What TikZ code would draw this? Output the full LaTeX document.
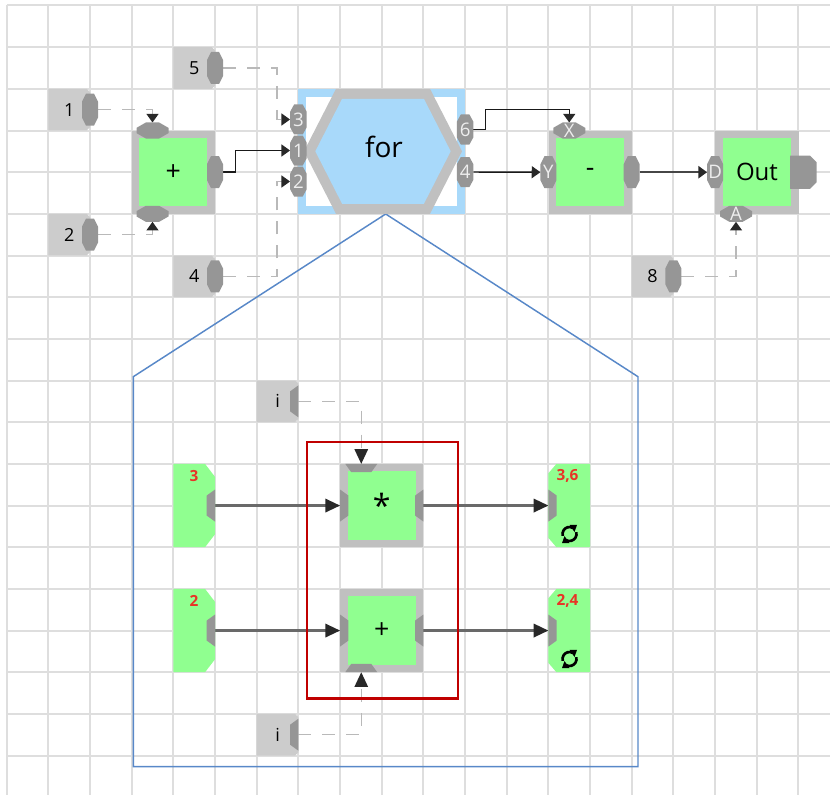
\documentclass[tikz,border=0pt]{standalone}
\usepackage{fontspec}
\setmainfont{Open Sans}
\usetikzlibrary{arrows.meta,calc}

\definecolor{gridc}{RGB}{222,222,222}
\definecolor{constc}{RGB}{204,204,204}
\definecolor{portc}{RGB}{150,150,150}
\definecolor{portlbl}{RGB}{238,238,238}
\definecolor{framec}{RGB}{192,192,192}
\definecolor{greenc}{RGB}{144,255,144}
\definecolor{forblue}{RGB}{168,217,250}
\definecolor{wirec}{RGB}{25,25,25}
\definecolor{wiretwo}{RGB}{70,70,70}
\definecolor{housewire}{RGB}{105,105,105}
\definecolor{dashc}{RGB}{185,185,185}
\definecolor{tipc}{RGB}{40,40,40}
\definecolor{housec}{RGB}{88,136,200}
\definecolor{framered}{RGB}{192,0,0}
\definecolor{lblred}{RGB}{232,52,38}

\pgfdeclarelayer{gridlayer}
\pgfdeclarelayer{wires}
\pgfsetlayers{gridlayer,wires,main}

\tikzset{
  every node/.style={inner sep=0pt, outer sep=0pt},
  gridline/.style={draw=gridc, line width=1.5pt},
  % octagonal port (chamfer on all four corners)
  oct/.style n args={3}{path picture={\fill[#1]
      ([yshift=-#3]path picture bounding box.north west) --
      ([xshift=#2]path picture bounding box.north west) --
      ([xshift=-#2]path picture bounding box.north east) --
      ([yshift=-#3]path picture bounding box.north east) --
      ([yshift=#3]path picture bounding box.south east) --
      ([xshift=-#2]path picture bounding box.south east) --
      ([xshift=#2]path picture bounding box.south west) --
      ([yshift=#3]path picture bounding box.south west) -- cycle;}},
  % chamfer on the right corners only
  rch/.style n args={3}{path picture={\fill[#1]
      (path picture bounding box.north west) --
      ([xshift=-#2]path picture bounding box.north east) --
      ([yshift=-#3]path picture bounding box.north east) --
      ([yshift=#3]path picture bounding box.south east) --
      ([xshift=-#2]path picture bounding box.south east) --
      (path picture bounding box.south west) -- cycle;}},
  % chamfer on the left corners only
  lch/.style n args={3}{path picture={\fill[#1]
      ([xshift=#2]path picture bounding box.north west) --
      (path picture bounding box.north east) --
      (path picture bounding box.south east) --
      ([xshift=#2]path picture bounding box.south west) --
      ([yshift=#3]path picture bounding box.south west) --
      ([yshift=-#3]path picture bounding box.north west) -- cycle;}},
  constbox/.style={rectangle, minimum width=31.25pt, minimum height=31.25pt,
      rch={constc}{2.5pt}{2.5pt}, font=\fontsize{13.5}{13.5}\selectfont},
  gin/.style={rectangle, minimum width=31.25pt, minimum height=62.5pt,
      rch={greenc}{7.5pt}{9.75pt}},
  gout/.style={rectangle, minimum width=31.25pt, minimum height=62.5pt,
      lch={greenc}{6pt}{7pt}},
  plbl/.style={font=\fontsize{14}{14}\selectfont, text=portlbl},
  vport/.style={rectangle, minimum width=12pt, minimum height=24pt,
      oct={portc}{3pt}{6pt}, plbl},
  vports/.style={rectangle, minimum width=12.5pt, minimum height=22.5pt,
      oct={portc}{3pt}{5.5pt}, plbl},
  hport/.style={rectangle, minimum width=24pt, minimum height=12pt,
      oct={portc}{7pt}{4pt}, plbl},
  outport/.style={rectangle, minimum width=20pt, minimum height=25pt,
      rch={portc}{5pt}{5pt}},
  % half ports, the long side lies on the frame edge
  hpE/.style={rectangle, minimum width=6.25pt, minimum height=24pt,
      path picture={\fill[portc] (path picture bounding box.north east) --
      (path picture bounding box.south east) --
      ([yshift=4.5pt]path picture bounding box.south west) --
      ([yshift=-4.5pt]path picture bounding box.north west) -- cycle;}},
  hpW/.style={rectangle, minimum width=6.25pt, minimum height=24pt,
      path picture={\fill[portc] (path picture bounding box.north west) --
      (path picture bounding box.south west) --
      ([yshift=4.5pt]path picture bounding box.south east) --
      ([yshift=-4.5pt]path picture bounding box.north east) -- cycle;}},
  hpN/.style={rectangle, minimum width=24pt, minimum height=6.25pt,
      path picture={\fill[portc] (path picture bounding box.north west) --
      (path picture bounding box.north east) --
      ([xshift=-4.5pt]path picture bounding box.south east) --
      ([xshift=4.5pt]path picture bounding box.south west) -- cycle;}},
  hpS/.style={rectangle, minimum width=24pt, minimum height=6.25pt,
      path picture={\fill[portc] (path picture bounding box.south west) --
      (path picture bounding box.south east) --
      ([xshift=-4.5pt]path picture bounding box.north east) --
      ([xshift=4.5pt]path picture bounding box.north west) -- cycle;}},
  gnode/.style={rectangle, fill=greenc, draw=framec, line width=5.7pt,
      minimum width=56.8pt, minimum height=56.8pt, font=\fontsize{20}{20}\selectfont},
  fornode/.style={rectangle, fill=white, draw=forblue, line width=6pt,
      minimum width=119pt, minimum height=87.75pt},
  redlbl/.style={text=lblred, font=\fontsize{11.5}{11.5}\selectfont\bfseries},
  wire/.style={draw=wirec, line width=1.1pt},
  wirebold/.style={draw=wiretwo, line width=1.7pt},
  hwire/.style={draw=housewire, line width=1.6pt},
  dwire/.style={draw=dashc, line width=1.1pt, dash pattern=on 9.75pt off 8.25pt},
  tipA/.style={-{Triangle[length=6.5pt,width=9pt,color=tipc]}},
  tipB/.style={-{Triangle[length=11pt,width=10pt,color=tipc]}},
  % circular "repeat" badge: two arcs, each ending in a small arrowhead
  refresh/.pic={
    \draw[line width=2pt] (165:7) arc[start angle=165, end angle=300, radius=7];
    \fill (300:7) ++(-3.5,-3) -- ++(7.5,0) -- ++(-2.5,7) -- cycle;
    \draw[line width=2pt] (-15:7) arc[start angle=-15, end angle=120, radius=7];
    \fill (120:7) ++(3.5,3) -- ++(-7.5,0) -- ++(2.5,-7) -- cycle;
  }
}

\begin{document}
\begin{tikzpicture}[x=0.75pt,y=-0.75pt]
\useasboundingbox (0,0) rectangle (830,795);

% background grid
\begin{pgfonlayer}{gridlayer}
  \foreach \k in {0,...,19}
    \draw[gridline] ({6.7+41.67*\k},5.5) -- ({6.7+41.67*\k},795);
  \foreach \k in {0,...,18}
    \draw[gridline] (6.7,{5.5+41.67*\k}) -- (830,{5.5+41.67*\k});
\end{pgfonlayer}

% ---------- top chain ----------
% constants
\node[constbox] (k1) at (69.2,109.65) {1};
\node[vport] (k1p) at (90,109.65) {};
\node[constbox] (k2) at (69.2,234.65) {2};
\node[vport] (k2p) at (90,234.65) {};
\node[constbox] (k5) at (194.2,68) {5};
\node[vport] (k5p) at (215,68) {};
\node[constbox] (k4) at (194.2,276.35) {4};
\node[vport] (k4p) at (215,276.35) {};
\node[constbox] (k8) at (652.55,276.35) {8};
\node[vport] (k8p) at (673.4,276.35) {};

% adder
\node[gnode] (add) at (173.35,172.2) {+};
\node[hport] (addT) at (152.5,130.5) {};
\node[hport] (addB) at (152.5,213.8) {};
\node[vport] (addR) at (215,172.2) {};

% loop block
\node[fornode] (forbox) at (381.75,151.3) {};
\fill[framec] (304,151.3) -- (336,88.8) -- (430,88.8) -- (462,151.3)
  -- (430,213.8) -- (336,213.8) -- cycle;
\fill[forblue] (315.3,151.3) -- (342.1,98.8) -- (423.9,98.8) -- (450.7,151.3)
  -- (423.9,203.8) -- (342.1,203.8) -- cycle;
\node[font=\fontsize{21}{21}\selectfont] (forlbl) at (384,147) {for};
\node[vports] (fL3) at (298.4,119.5) {3};
\node[vports] (fL1) at (298.4,150.5) {1};
\node[vports] (fL2) at (298.4,181.5) {2};
\node[vports] (fR6) at (465.1,129.5) {6};
\node[vports] (fR4) at (465.1,172) {4};

% subtractor
\node[gnode] (sub) at (590.25,172.2) {-};
\node[hport] (subX) at (569.25,130.5) {X};
\node[vport] (subY) at (548.4,172.2) {Y};
\node[vport] (subO) at (631.7,172.2) {};

% output
\node[gnode, font=\fontsize{18}{18}\selectfont] (outn) at (756.95,172.2) {Out};
\node[vport] (outD) at (715.1,172.2) {D};
\node[hport] (outA) at (736,213.8) {A};
\node[outport, anchor=west] (outO) at (790,172.2) {};

% ---------- loop body ----------
\node[constbox] (ki1) at (277.55,401.35) {i};
\node[hpE, anchor=east] (ki1p) at (298.4,401.35) {};
\node[constbox] (ki2) at (277.55,734.7) {i};
\node[hpE, anchor=east] (ki2p) at (298.4,734.7) {};

\node[gin] (g3) at (194.2,505.55) {};
\node[hpE, anchor=east] (g3p) at (215,505.55) {};
\node[redlbl] (g3l) at (194,476) {3};
\node[gin] (g2) at (194.2,630.55) {};
\node[hpE, anchor=east] (g2p) at (215,630.55) {};
\node[redlbl] (g2l) at (194,601) {2};

\node[gnode] (mul) at (381.75,505.55) {\raisebox{-5pt}{\fontsize{24}{24}\selectfont *}};
\node[hpW, anchor=west] (mulL) at (340.1,505.55) {};
\node[hpN, anchor=north] (mulT) at (361.25,463.9) {};
\node[hpE, anchor=east] (mulR) at (423.4,505.55) {};

\node[gnode] (add2) at (381.75,630.55) {+};
\node[hpW, anchor=west] (add2L) at (340.1,630.55) {};
\node[hpS, anchor=south] (add2B) at (361.25,672.2) {};
\node[hpE, anchor=east] (add2R) at (423.4,630.55) {};

\node[gout] (g36) at (569.25,505.55) {};
\node[hpW, anchor=west] (g36p) at (548.4,505.55) {};
\node[redlbl] (g36l) at (567.5,475.5) {3,6};
\pic at (569.5,534) {refresh};
\node[gout] (g24) at (569.25,630.55) {};
\node[hpW, anchor=west] (g24p) at (548.4,630.55) {};
\node[redlbl] (g24l) at (567.5,600.5) {2,4};
\pic at (569.5,659) {refresh};

% grouping frame around the body operators
\draw[framered, line width=1.8pt] (306.7,441.7) rectangle (457.7,698.3);

% ---------- connectors ----------
\begin{pgfonlayer}{wires}
  \draw[dwire, tipA] (k1p.east) -| (addT.north);
  \draw[dwire, tipA] (k2p.east) -| (addB.south);
  \draw[wire, tipA] (addR.east) -- ($(addR.east)+(12.5,0)$) |- (fL1.west);
  \draw[dwire, tipA] (k5p.east) -| ($(fL3.west)+(-13,0)$) -- (fL3.west);
  \draw[dwire, tipA] (k4p.east) -| ($(fL2.west)+(-13,0)$) -- (fL2.west);
  \draw[wire, tipA] (fR6.east) -- ($(fR6.east)+(12,0)$)
    |- ($(subX.north)+(0,-13)$) -- (subX.north);
  \draw[wire, tipA] (fR4.east) -- (subY.west);
  \draw[wirebold, tipA] (subO.east) -- (outD.west);
  \draw[dwire, tipA] (k8p.east) -| (outA.south);

  % expansion outline of the loop body
  \draw[housec, line width=1.1pt] (385.7,214) -- (638,376.7) -- (638,766.7)
    -- (133.3,766.7) -- (133.3,376.7) -- cycle;

  \draw[dwire, tipB] (ki1p.east) -| (mulT.north);
  \draw[dwire, tipB] (ki2p.east) -| (add2B.south);
  \draw[hwire, tipB] (g3p.east) -- (mulL.west);
  \draw[hwire, tipB] (mulR.east) -- (g36p.west);
  \draw[hwire, tipB] (g2p.east) -- (add2L.west);
  \draw[hwire, tipB] (add2R.east) -- (g24p.west);
\end{pgfonlayer}
\end{tikzpicture}
\end{document}
